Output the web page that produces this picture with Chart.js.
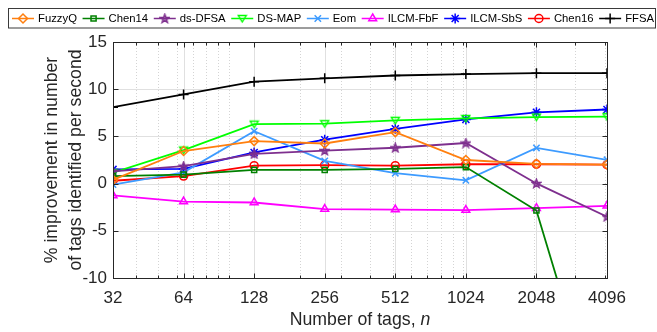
<!DOCTYPE html>
<html>
<head>
<meta charset="utf-8">
<script src="https://cdn.jsdelivr.net/npm/chart.js@4.4.0/dist/chart.umd.min.js"></script>
<style>
  html, body { margin: 0; padding: 0; background: #fff; }
  #wrap { width: 657px; height: 332px; }
</style>
</head>
<body>
<div id="wrap"><canvas id="myChart"></canvas></div>
<script>
// values
const tagCounts = [32, 64, 128, 256, 512, 1024, 2048, 4096];
const fuzzyQ  = [0.4, 3.45, 4.5, 4.25, 5.45, 2.5, 2.1, 2.02];
const chen14  = [0.8, 0.95, 1.45, 1.45, 1.55, 1.75, -2.85, -27.7];
const dsDFSA  = [1.3, 1.85, 3.15, 3.5, 3.8, 4.3, 0.02, -3.5];
const dsMAP   = [1.15, 3.55, 6.3, 6.35, 6.7, 6.9, 7.05, 7.1];
const eom     = [-0.1, 1.2, 5.55, 2.4, 1.1, 0.35, 3.78, 2.52];
const ilcmFbF = [-1.25, -1.9, -2.0, -2.7, -2.75, -2.8, -2.6, -2.35];
const ilcmSbS = [1.5, 1.55, 3.3, 4.65, 5.8, 6.8, 7.55, 7.85];
const chen16  = [0.3, 0.8, 1.9, 1.95, 1.9, 2.05, 2.05, 2.0];
const ffsa    = [8.1, 9.45, 10.8, 11.15, 11.45, 11.6, 11.7, 11.7];

const yTicks = [-10, -5, 0, 5, 10, 15];
const xMinorTicks = [40, 50, 60, 70, 80, 90, 100, 200, 300, 400, 500, 600, 700, 800, 900, 1000, 2000, 3000, 4000];

const axisColor = '#262626';
const gridColor = '#e0e0e0';
const fontFam = '"Liberation Sans", Arial, Helvetica, sans-serif';

// markers chart.js doesn't have (pentagram, down triangle)
function makeMarker(color, draw) {
  const c = document.createElement('canvas');
  c.width = 11; c.height = 11;
  const g = c.getContext('2d');
  g.strokeStyle = color;
  g.lineWidth = 1.4;
  draw(g);
  return c;
}

const pentagram = makeMarker('#7e2f8e', g => {
  g.beginPath();
  for (let i = 0; i < 10; i++) {
    const r = i % 2 === 0 ? 4.6 : 1.9;
    const a = -Math.PI / 2 + i * Math.PI / 5;
    const px = 5.5 + r * Math.cos(a), py = 5.8 + r * Math.sin(a);
    if (i === 0) g.moveTo(px, py); else g.lineTo(px, py);
  }
  g.closePath();
  g.fillStyle = '#7e2f8e';
  g.globalAlpha = 0.6;
  g.fill();
  g.globalAlpha = 1;
  g.stroke();
});

const triDown = makeMarker('#00ff00', g => {
  g.beginPath();
  g.moveTo(1.5, 2.5);
  g.lineTo(9.5, 2.5);
  g.lineTo(5.5, 9);
  g.closePath();
  g.stroke();
});

function series(label, values, color, pointStyle, radius) {
  return {
    label: label,
    data: tagCounts.map((t, i) => ({ x: t, y: values[i] })),
    borderColor: color,
    backgroundColor: 'rgba(0,0,0,0)',
    pointBackgroundColor: 'rgba(0,0,0,0)',
    pointBorderColor: color,
    pointStyle: pointStyle,
    pointRadius: radius || 4,
    pointBorderWidth: 1.5,
    borderWidth: 1.8,
    tension: 0,
  };
}

const datasets = [
  series('FuzzyQ', fuzzyQ, '#ff7f0e', 'rectRot', 4.5),
  series('Chen14', chen14, '#008000', 'rect', 3.6),
  series('ds-DFSA', dsDFSA, '#7e2f8e', pentagram),
  series('DS-MAP', dsMAP, '#00ff00', triDown),
  series('Eom', eom, '#3d9bff', 'crossRot', 4.5),
  series('ILCM-FbF', ilcmFbF, '#ff00ff', 'triangle', 4.5),
  series('ILCM-SbS', ilcmSbS, '#0000ff', 'star', 5),
  series('Chen16', chen16, '#ff0000', 'circle', 4),
  series('FFSA', ffsa, '#000000', 'cross', 5),
];

// grid lines (major solid, minor dotted) behind the lines
const gridPlugin = {
  id: 'matlabGrid',
  beforeDatasetsDraw(chart) {
    const { ctx, chartArea: a, scales: { x, y } } = chart;
    ctx.save();
    ctx.lineWidth = 1;
    ctx.strokeStyle = '#d4d4d4';
    ctx.setLineDash([1, 2]);
    xMinorTicks.forEach(v => {
      const px = Math.round(x.getPixelForValue(v)) + 0.5;
      ctx.beginPath(); ctx.moveTo(px, a.top); ctx.lineTo(px, a.bottom); ctx.stroke();
    });
    ctx.setLineDash([]);
    ctx.strokeStyle = gridColor;
    tagCounts.forEach(v => {
      const px = Math.round(x.getPixelForValue(v)) + 0.5;
      ctx.beginPath(); ctx.moveTo(px, a.top); ctx.lineTo(px, a.bottom); ctx.stroke();
    });
    yTicks.forEach(v => {
      const py = Math.round(y.getPixelForValue(v)) + 0.5;
      ctx.beginPath(); ctx.moveTo(a.left, py); ctx.lineTo(a.right, py); ctx.stroke();
    });
    ctx.restore();
  },
  afterDatasetsDraw(chart) {
    const { ctx, chartArea: a, scales: { x, y } } = chart;
    ctx.save();
    ctx.strokeStyle = axisColor;
    ctx.lineWidth = 1;
    const L = Math.round(a.left) + 0.5, R = Math.round(a.right) + 0.5;
    const T = Math.round(a.top) + 0.5, B = Math.round(a.bottom) + 0.5;
    ctx.strokeRect(L, T, R - L, B - T);
    ctx.beginPath();
    // inward ticks
    tagCounts.forEach(v => {
      const px = Math.round(x.getPixelForValue(v)) + 0.5;
      ctx.moveTo(px, B); ctx.lineTo(px, B - 5);
      ctx.moveTo(px, T); ctx.lineTo(px, T + 5);
    });
    xMinorTicks.forEach(v => {
      const px = Math.round(x.getPixelForValue(v)) + 0.5;
      ctx.moveTo(px, B); ctx.lineTo(px, B - 3);
      ctx.moveTo(px, T); ctx.lineTo(px, T + 3);
    });
    yTicks.forEach(v => {
      const py = Math.round(y.getPixelForValue(v)) + 0.5;
      ctx.moveTo(L, py); ctx.lineTo(L + 5, py);
      ctx.moveTo(R, py); ctx.lineTo(R - 5, py);
    });
    ctx.stroke();
    ctx.restore();
  },
  afterDraw(chart) {
    const { ctx, chartArea: a } = chart;
    ctx.save();
    ctx.fillStyle = axisColor;
    // x title with italic n
    ctx.textBaseline = 'middle';
    const t1 = 'Number of tags, ';
    ctx.font = '17.7px ' + fontFam;
    const w1 = ctx.measureText(t1).width;
    ctx.font = 'italic 17.7px ' + fontFam;
    const w2 = ctx.measureText('n').width;
    const cx = (a.left + a.right) / 2;
    let sx = cx - (w1 + w2) / 2;
    ctx.font = '17.7px ' + fontFam;
    ctx.textAlign = 'left';
    ctx.fillText(t1, sx, 320);
    ctx.font = 'italic 17.7px ' + fontFam;
    ctx.fillText('n', sx + w1, 320);
    // y title, two lines
    ctx.font = '17.7px ' + fontFam;
    ctx.textAlign = 'center';
    const cy = (a.top + a.bottom) / 2;
    ctx.translate(0, cy);
    ctx.rotate(-Math.PI / 2);
    ctx.fillText('% improvement in number', 0, 52);
    ctx.fillText('of tags identified per second', 0, 76);
    ctx.restore();
  }
};

// legend in a box across the top, line sample with marker
const legendPlugin = {
  id: 'boxLegend',
  afterDraw(chart) {
    const ctx = chart.ctx;
    const sets = chart.data.datasets;
    ctx.save();
    ctx.font = '11.3px ' + fontFam;
    const widths = sets.map(d => ctx.measureText(d.label).width);
    const lineLen = 22, textGap = 4, left = 12, right = 654;
    const used = widths.reduce((s, w) => s + lineLen + textGap + w, 0);
    const gap = (right - left - used) / (sets.length - 1);
    ctx.fillStyle = '#fff';
    ctx.fillRect(8.5, 8.5, 647, 19.5);
    ctx.strokeStyle = '#3a3a3a';
    ctx.lineWidth = 1;
    ctx.strokeRect(8.5, 8.5, 647, 19.5);
    const ly = 18.5;
    let px = left;
    sets.forEach((d, i) => {
      ctx.strokeStyle = d.borderColor;
      ctx.lineWidth = 1.5;
      ctx.beginPath(); ctx.moveTo(px, ly); ctx.lineTo(px + lineLen, ly); ctx.stroke();
      ctx.fillStyle = 'rgba(0,0,0,0)';
      Chart.helpers.drawPoint(ctx, {
        pointStyle: d.pointStyle, radius: d.pointRadius, borderWidth: 1.5, rotation: 0
      }, px + lineLen / 2, ly);
      ctx.fillStyle = '#000';
      ctx.textAlign = 'left';
      ctx.textBaseline = 'middle';
      ctx.fillText(d.label, px + lineLen + textGap, ly + 0.5);
      px += lineLen + textGap + widths[i] + gap;
    });
    ctx.restore();
  }
};

const ctx = document.getElementById('myChart').getContext('2d');
new Chart(ctx, {
  type: 'line',
  data: { datasets: datasets },
  options: {
    responsive: true,
    maintainAspectRatio: false,
    animation: false,
    layout: { padding: { top: 42, right: 50, left: 0, bottom: 0 } },
    plugins: {
      legend: { display: false },
      tooltip: { enabled: false },
    },
    scales: {
      x: {
        type: 'logarithmic',
        min: 32,
        max: 4096,
        afterBuildTicks: scale => { scale.ticks = tagCounts.map(v => ({ value: v })); },
        afterFit: scale => { scale.height = 54; },
        grid: { display: false, drawTicks: false },
        border: { display: false },
        ticks: {
          autoSkip: false,
          maxRotation: 0,
          padding: 10,
          color: axisColor,
          font: { family: fontFam, size: 17 },
          callback: v => String(v),
        },
      },
      y: {
        type: 'linear',
        min: -10,
        max: 15,
        afterBuildTicks: scale => { scale.ticks = yTicks.map(v => ({ value: v })); },
        afterFit: scale => { scale.width = 113; },
        grid: { display: false, drawTicks: false },
        border: { display: false },
        ticks: {
          padding: 6,
          color: axisColor,
          font: { family: fontFam, size: 17 },
        },
      },
    },
  },
  plugins: [gridPlugin, legendPlugin],
});
</script>
</body>
</html>
